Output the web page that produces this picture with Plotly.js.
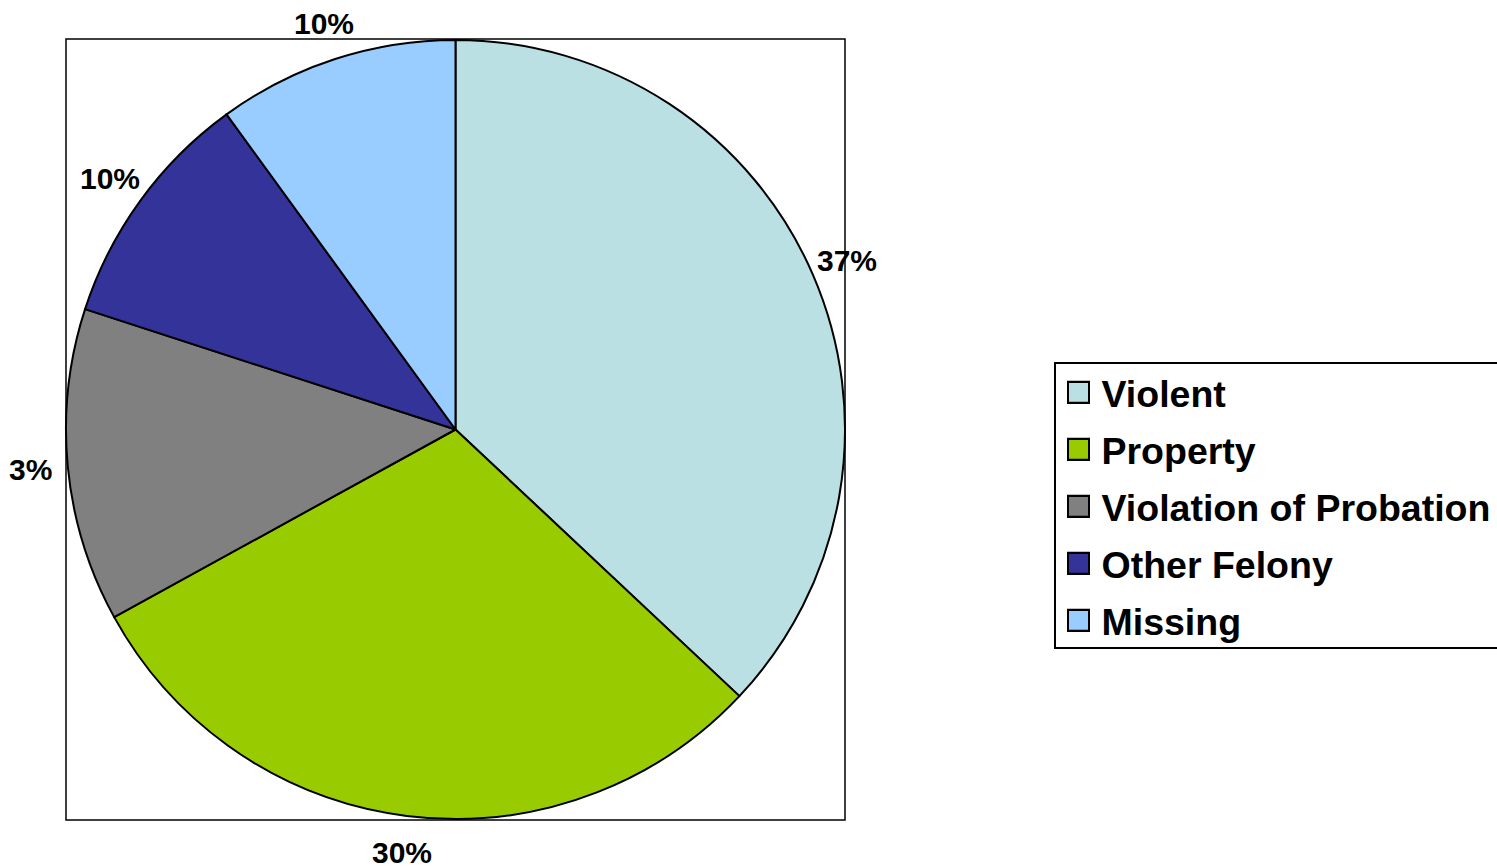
<!DOCTYPE html>
<html>
<head>
<meta charset="utf-8">
<script src="https://cdn.plot.ly/plotly-3.0.1.min.js"></script>
<style>html,body{margin:0;padding:0;background:#fff;}#chart{width:1497px;height:868px;}</style>
</head>
<body>
<div id="chart"></div>
<script>
const categories = ['Violent', 'Property', 'Violation of Probation', 'Other Felony', 'Missing'];
const shares = [37, 30, 13, 10, 10];
const shownLabels = ['37%', '30%', '3%', '10%', '10%'];
const sliceColors = ['#BAE0E3', '#99CC00', '#808080', '#333399', '#99CCFF'];

const W = 1497, H = 868;
const box = {x0: 66, x1: 845, y0: 39, y1: 820};
const dom = {
  x: [box.x0 / W, box.x1 / W],
  y: [(H - box.y1) / H, (H - box.y0) / H]
};

// label placement: along each slice's mid-angle, a little outside the rim
const cx = (box.x0 + box.x1) / 2, cy = (box.y0 + box.y1) / 2;
const R = Math.min(box.x1 - box.x0, box.y1 - box.y0) / 2;
const labelDist = R * 1.095;
const total = shares.reduce((a, b) => a + b, 0);
let cum = 0;
const labelAnns = shares.map((v, i) => {
  const mid = (cum + v / 2) / total * 2 * Math.PI;
  cum += v;
  const px = cx + labelDist * Math.sin(mid);
  const py = cy - labelDist * Math.cos(mid);
  return {
    text: shownLabels[i], xref: 'paper', yref: 'paper',
    x: px / W, y: 1 - py / H, xanchor: 'center', yanchor: 'middle',
    showarrow: false,
    font: {family: 'Liberation Sans, Arial, sans-serif', size: 30, color: '#000', weight: 'bold'}
  };
});

const trace = {
  type: 'pie',
  labels: categories,
  values: shares,
  textinfo: 'none',
  sort: false,
  direction: 'clockwise',
  rotation: 0,
  domain: dom,
  marker: {colors: sliceColors, line: {color: '#000', width: 2}},
  hoverinfo: 'label+percent'
};

const layout = {
  width: W, height: H,
  margin: {l: 0, r: 0, t: 0, b: 0},
  paper_bgcolor: '#fff',
  showlegend: true,
  legend: {
    x: 1054 / W, y: 1 - 362 / H, xanchor: 'left', yanchor: 'top',
    bordercolor: '#000', borderwidth: 1.5, bgcolor: '#fff',
    font: {family: 'Liberation Sans, Arial, sans-serif', size: 37.5, color: '#000', weight: 'bold'},
    itemwidth: 36
  },
  annotations: labelAnns,
  shapes: [{
    type: 'rect', xref: 'paper', yref: 'paper',
    x0: dom.x[0], x1: dom.x[1], y0: dom.y[0], y1: dom.y[1],
    line: {color: '#000', width: 1.5}, layer: 'below'
  }]
};

Plotly.newPlot('chart', [trace], layout, {displayModeBar: false, staticPlot: true}).then(gd => {
  // Excel-style legend: larger swatches and wider row spacing
  const legend = gd.querySelector('.legend');
  if (!legend) return;
  const rowGap = 57;
  const traces = legend.querySelectorAll('.traces');
  let firstY = null;
  traces.forEach((t, i) => {
    const m = /translate\(\s*([-\d.]+)[ ,]+([-\d.]+)\s*\)/.exec(t.getAttribute('transform') || '');
    if (!m) return;
    const x = +m[1], y = +m[2];
    if (firstY === null) firstY = y - 2;
    t.setAttribute('transform', 'translate(' + x + ',' + (firstY + i * rowGap) + ')');
    t.querySelectorAll('.legendpoints path').forEach(p => {
      const tr = p.getAttribute('transform') || '';
      p.setAttribute('transform', tr + ' scale(1.75)');
      p.style.strokeWidth = '1.15px';
    });
  });
  const boxH = 285, boxW = 470;
  legend.querySelectorAll('rect.bg').forEach(r => {
    r.setAttribute('height', boxH);
    r.setAttribute('width', boxW);
  });
  gd.querySelectorAll('clipPath[id^="legend"] rect').forEach(r => {
    r.setAttribute('height', boxH);
    r.setAttribute('width', boxW);
  });
});
</script>
</body>
</html>
